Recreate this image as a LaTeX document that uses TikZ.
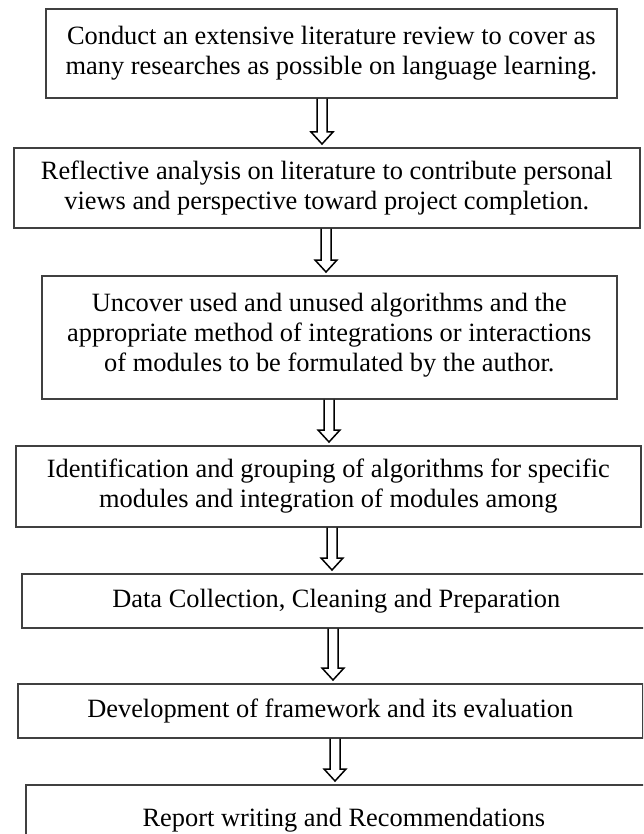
\documentclass[tikz,border=0pt]{standalone}
\usepackage{fontspec}
\setmainfont{Liberation Serif}
\usetikzlibrary{calc}
\tikzset{
  boxnode/.style={draw=black!75, line width=1.6pt, rectangle, anchor=north west, inner sep=0pt, align=center,
    font=\fontsize{26.4}{30}\selectfont},
  arrowline/.style={draw=black, line width=1.5pt, line join=miter}
}
\newcommand\hollowdown[3]{%
  \draw[arrowline] let \p1=(#2.south), \p2=(#3.north) in
    ({#1pt-5pt},\y1) -- ({#1pt-5pt},\y2+15pt) -- ({#1pt-11pt},\y2+15pt) -- ({#1pt},\y2+3pt)
    -- ({#1pt+11pt},\y2+15pt) -- ({#1pt+5pt},\y2+15pt) -- ({#1pt+5pt},\y1);}
\begin{document}
\begin{tikzpicture}[x=1pt,y=-1pt]
\useasboundingbox (0,0) rectangle (643,834);
\clip (0,0) rectangle (643,834);
\node[boxnode, minimum width=571pt, minimum height=89pt] (b1) at (45,8)
  {Conduct an extensive literature review to cover as\\many researches as possible on language learning.};
\node[boxnode, minimum width=626pt, minimum height=80pt] (b2) at (13,147)
  {Reflective analysis on literature to contribute personal\\views and perspective toward project completion.};
\node[boxnode, minimum width=575pt, minimum height=123pt, text depth=10pt] (b3) at (41,275)
  {Uncover used and unused algorithms and the\\appropriate method of integrations or interactions\\of modules to be formulated by the author.};
\node[boxnode, minimum width=625pt, minimum height=81pt] (b4) at (15,445)
  {Identification and grouping of algorithms for specific\\modules and integration of modules among};
\node[boxnode, minimum width=629pt, minimum height=54pt] (b5) at (21,573)
  {Data Collection, Cleaning and Preparation};
\node[boxnode, minimum width=625pt, minimum height=54pt] (b6) at (17,683)
  {Development of framework and its evaluation};
\node[boxnode, minimum width=636pt, minimum height=70pt] (b7) at (25,784)
  {Report writing and Recommendations};
\hollowdown{322}{b1}{b2}
\hollowdown{326}{b2}{b3}
\hollowdown{329}{b3}{b4}
\hollowdown{332}{b4}{b5}
\hollowdown{333}{b5}{b6}
\hollowdown{335}{b6}{b7}
\end{tikzpicture}
\end{document}
